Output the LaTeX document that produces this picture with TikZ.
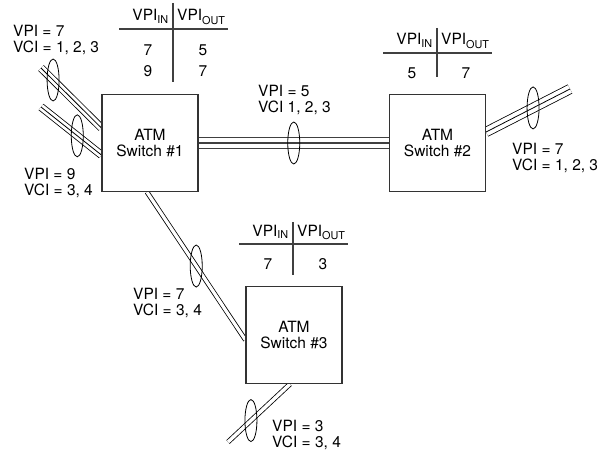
\documentclass[tikz,border=0pt]{standalone}
\usepackage{fontspec}
\setmainfont{TeX Gyre Heros}
\usetikzlibrary{shapes.geometric,backgrounds}
\newcommand{\vin}{VPI\textsubscript{IN}}
\newcommand{\vout}{VPI\textsubscript{OUT}}
\tikzset{
  switchbox/.style={draw=black!80, fill=white, line width=1.1pt, minimum width=96pt, minimum height=97pt, align=center, inner sep=0pt},
  trunk/.style={line width=0.8pt, double, double distance=#1, postaction={draw, line width=0.8pt}},
  trunk/.default=6.4pt,
  mainlink/.style={line width=1.1pt, draw=black!75, double, double distance=9.9pt, postaction={draw=black!75, line width=1.1pt}},
  pair/.style={line width=0.8pt, double, double distance=#1},
  pair/.default=3.2pt,
  vcircle/.style={draw, ellipse, line width=0.8pt, minimum width=12pt, minimum height=42pt, inner sep=0pt},
  vlabel/.style={anchor=west, align=left, inner sep=0pt},
  rule/.style={line width=1.1pt, black!75}
}
\begin{document}
\begin{tikzpicture}[x=1pt,y=-1pt,font=\fontsize{15.5}{16}\selectfont]
  \useasboundingbox (0,0) rectangle (601,452);
  % switches
  \node[switchbox] (sw1) at (150,143) {ATM\\Switch \#1};
  \node[switchbox] (sw2) at (437.5,143) {ATM\\Switch \#2};
  \node[switchbox] (sw3) at (294,335) {ATM\\Switch \#3};
  % free ends of the links
  \coordinate (inA) at (41,68);
  \coordinate (inB) at (41,107);
  \coordinate (outB) at (570,89);
  \coordinate (outC) at (228,442);
  \begin{scope}[on background layer]
    \draw[trunk] (inA) -- ([yshift=15pt]sw1.west);
    \draw[trunk] (inB) -- ([yshift=-12pt]sw1.west);
    \draw[mainlink] (sw1.east) -- (sw2.west);
    \draw[trunk=8.6pt] ([yshift=11pt]sw2.east) -- (outB);
    \draw[pair] ([xshift=-3pt]sw1.south) -- ([yshift=-5pt]sw3.west);
    \draw[pair=3.4pt] ([xshift=-4pt]sw3.south) -- (outC);
  \end{scope}
  % virtual path bundles
  \path (inA) -- ([yshift=15pt]sw1.west) node[vcircle,pos=0.2] (vpA) {};
  \path (inB) -- ([yshift=-12pt]sw1.west) node[vcircle,pos=0.6] (vpB) {};
  \path (sw1.east) -- (sw2.west) node[vcircle,pos=0.5] (vp12) {};
  \path ([yshift=11pt]sw2.east) -- (outB) node[vcircle,pos=0.56] (vpOut) {};
  \path ([xshift=-3pt]sw1.south) -- ([yshift=-5pt]sw3.west) node[vcircle,pos=0.5] (vp13) {};
  \path ([xshift=-4pt]sw3.south) -- (outC) node[vcircle,pos=0.63] (vp3) {};
  % translation tables
  \foreach \tx/\ty/\up/\dn [count=\i] in {173/29/26/53, 437/53/25/24, 293/244/22/31} {
    \draw[rule] (\tx-54,\ty) -- (\tx+55,\ty);
    \draw[rule] (\tx,\ty-\up) -- (\tx,\ty+\dn);
    \node[anchor=base east,inner sep=4pt] (in\i) at (\tx,\ty-8) {\vin};
    \node[anchor=base west,inner sep=4pt] (out\i) at (\tx,\ty-8) {\vout};
  }
  \node (r1a) at (148,50) {7}; \node (r1b) at (203,50) {5};
  \node (r2a) at (148,71) {9}; \node (r2b) at (203,71) {7};
  \node (r3a) at (412,73) {5}; \node (r3b) at (466,73) {7};
  \node (r4a) at (268,264) {7}; \node (r4b) at (323,264) {3};
  % labels
  \node[vlabel] (lA) at (13,40) {VPI = 7\\VCI = 1, 2, 3};
  \node[vlabel] (lB) at (24,182.5) {VPI = 9\\VCI = 3, 4};
  \node[vlabel] (l12) at (258,100) {VPI = 5\\VCI 1, 2, 3};
  \node[vlabel] (lOut) at (512,157.5) {VPI = 7\\VCI = 1, 2, 3};
  \node[vlabel] (l13) at (133,303) {VPI = 7\\VCI = 3, 4};
  \node[vlabel] (l3) at (272,434.5) {VPI = 3\\VCI = 3, 4};
\end{tikzpicture}
\end{document}
